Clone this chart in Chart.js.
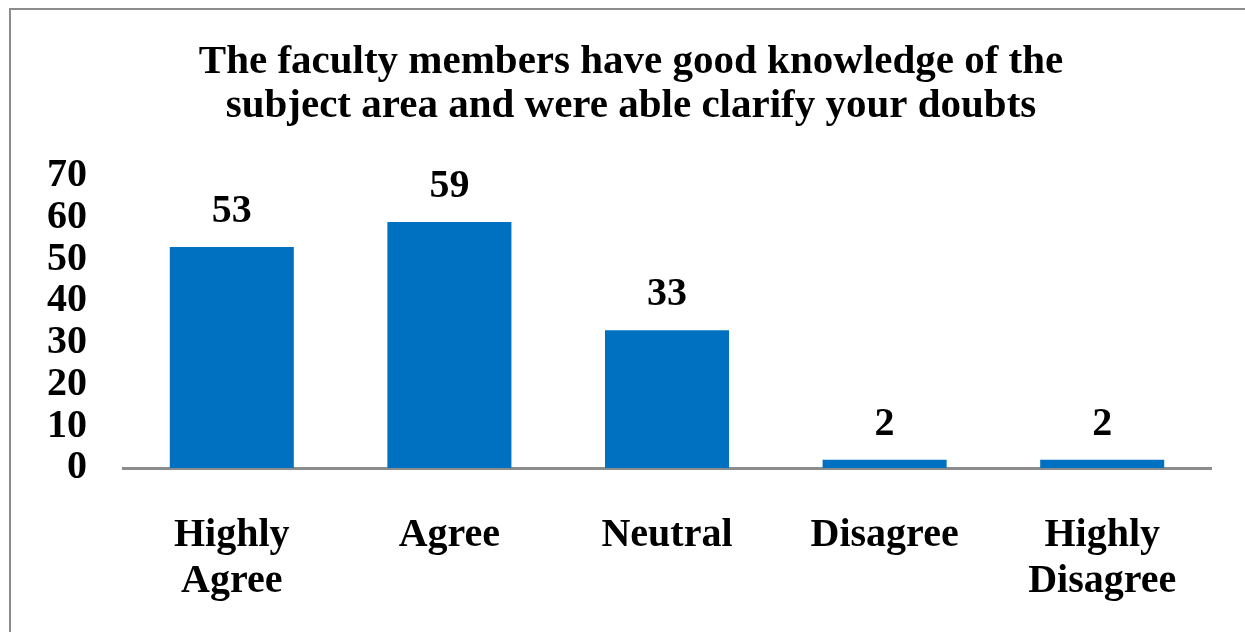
<!DOCTYPE html>
<html>
<head>
<meta charset="utf-8">
<style>
  html, body { margin: 0; padding: 0; background: #ffffff; }
  #wrap { width: 1245px; height: 632px; position: relative; }
</style>
<script src="https://cdn.jsdelivr.net/npm/chart.js@4.4.1/dist/chart.umd.min.js"></script>
</head>
<body>
<div id="wrap"><canvas id="c" width="1245" height="632"></canvas></div>
<script>
const titleLines = ["The faculty members have good knowledge of the", "subject area and were able clarify your doubts"];
const categories = [["Highly", "Agree"], "Agree", "Neutral", "Disagree", ["Highly", "Disagree"]];
const responses = [53, 59, 33, 2, 2];
const yTicks = [0, 10, 20, 30, 40, 50, 60, 70];

const FONT = "'Liberation Serif', 'Times New Roman', serif";

const frame = {
  id: 'frame',
  beforeDraw(chart) {
    const ctx = chart.ctx;
    ctx.save();
    ctx.fillStyle = '#ffffff';
    ctx.fillRect(0, 0, chart.width, chart.height);
    ctx.strokeStyle = '#8c8c8c';
    ctx.lineWidth = 2;
    ctx.strokeRect(10, 9, chart.width + 20, chart.height + 20);
    ctx.restore();
  },
  afterDraw(chart) {
    const ctx = chart.ctx;
    ctx.save();
    ctx.font = "bold 41px " + FONT;
    ctx.fillStyle = '#000000';
    ctx.textAlign = 'center';
    ctx.textBaseline = 'alphabetic';
    ctx.fillText(titleLines[0], 631, 73);
    ctx.fillText(titleLines[1], 631, 117);
    ctx.restore();
  }
};

const valueLabels = {
  id: 'valueLabels',
  afterDatasetsDraw(chart) {
    const ctx = chart.ctx;
    const meta = chart.getDatasetMeta(0);
    ctx.save();
    ctx.font = "bold 40px " + FONT;
    ctx.fillStyle = '#000000';
    ctx.textAlign = 'center';
    ctx.textBaseline = 'alphabetic';
    meta.data.forEach((bar, i) => {
      ctx.fillText(String(chart.data.datasets[0].data[i]), bar.x, bar.y - 25);
    });
    ctx.restore();
  }
};

new Chart(document.getElementById('c'), {
  type: 'bar',
  data: {
    labels: categories,
    datasets: [{
      data: responses,
      backgroundColor: '#0070C0',
      borderWidth: 0,
      categoryPercentage: 1.0,
      barPercentage: 0.57
    }]
  },
  options: {
    responsive: false,
    animation: false,
    devicePixelRatio: 1,
    layout: { padding: { left: 12, right: 34, top: 176, bottom: 0 } },
    plugins: {
      legend: { display: false },
      tooltip: { enabled: false },
      title: { display: false }
    },
    scales: {
      x: {
        grid: { display: false, drawTicks: false },
        border: { display: true, color: '#8c8c8c', width: 3 },
        ticks: {
          color: '#000000',
          font: { family: FONT, size: 40, weight: 'bold', lineHeight: 1.15 },
          padding: 45,
          maxRotation: 0,
          autoSkip: false
        },
        afterFit(scale) { scale.height = 164; }
      },
      y: {
        min: 0,
        max: 70,
        grid: { display: false, drawTicks: false },
        border: { display: false },
        afterBuildTicks(scale) { scale.ticks = yTicks.map(v => ({ value: v })); },
        ticks: {
          color: '#000000',
          font: { family: FONT, size: 40, weight: 'bold', lineHeight: 1.0 },
          padding: 36,
          autoSkip: false
        },
        afterFit(scale) { scale.width = 111; }
      }
    }
  },
  plugins: [frame, valueLabels]
});
</script>
</body>
</html>
